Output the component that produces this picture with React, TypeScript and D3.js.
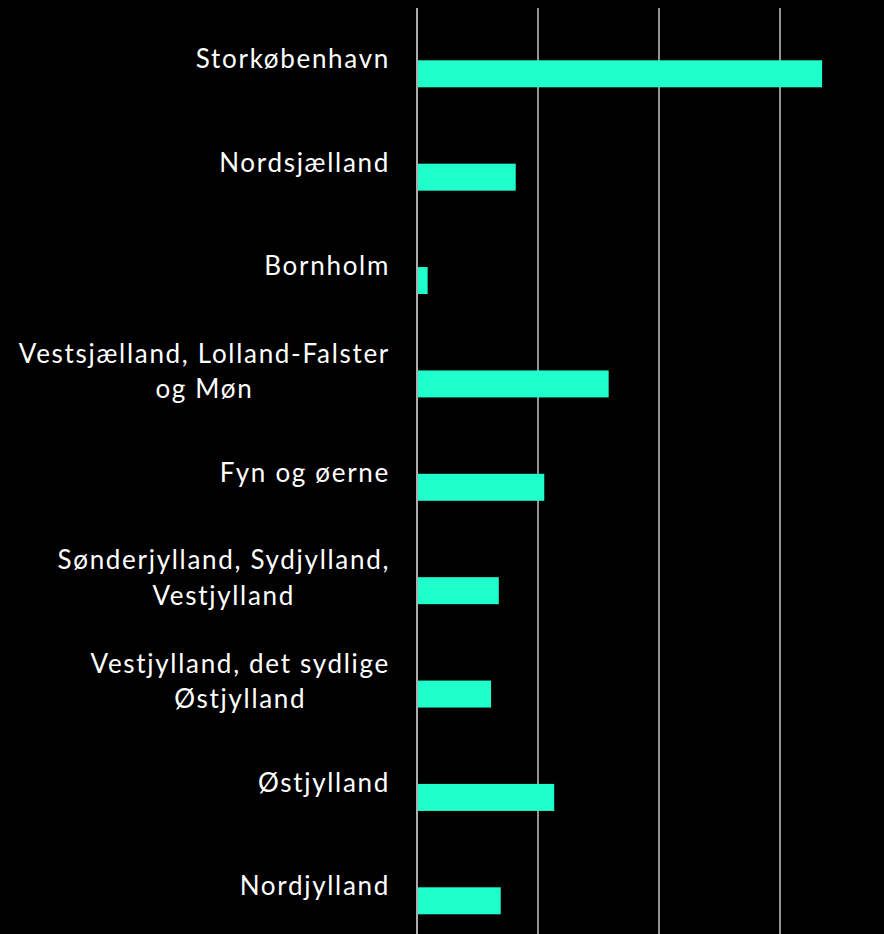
import React, { useEffect, useRef } from 'react';
import * as d3 from 'd3';

// Regions and their bar values (tick step = 5)
const regions = [
    "Storkøbenhavn",
    "Nordsjælland",
    "Bornholm",
    "Vestsjælland, Lolland-Falster|og Møn",
    "Fyn og øerne",
    "Sønderjylland, Sydjylland,|Vestjylland",
    "Vestjylland, det sydlige|Østjylland",
    "Østjylland",
    "Nordjylland"
];
const values = [16.74, 4.08, 0.44, 7.92, 5.26, 3.38, 3.06, 5.67, 3.46];
const ticks = [0, 5, 10, 15];

export default function App() {
    const ref = useRef<SVGSVGElement>(null);

    useEffect(() => {
        const width = 884;
        const height = 934;
        const barHeight = 27;
        const barOffset = 38;
        const lineHeight = 35.5;
        const labelRight = 389;

        document.body.style.margin = "0";
        document.body.style.background = "#000";

        const svg = d3.select(ref.current);
        svg.selectAll("*").remove();

        svg.append("rect")
            .attr("width", width)
            .attr("height", height)
            .attr("fill", "#000");

        const x = d3.scaleLinear()
            .domain([0, 17.5])
            .range([417, 417 + 121 * 3.5]);

        const y = d3.scaleBand()
            .domain(regions)
            .range([22.3, 22.3 + 9 * 103.375])
            .padding(0);

        // Grid lines
        svg.selectAll("line.grid")
            .data(ticks)
            .enter()
            .append("line")
            .attr("class", "grid")
            .attr("x1", d => x(d))
            .attr("x2", d => x(d))
            .attr("y1", 8)
            .attr("y2", height)
            .attr("stroke", (d, i) => i === 0 ? "#d8d8d8" : "#b8b8b8")
            .attr("stroke-width", 1.6);

        // Bars
        svg.selectAll("rect.bar")
            .data(regions)
            .enter()
            .append("rect")
            .attr("class", "bar")
            .attr("x", x(0) + 1)
            .attr("y", d => (y(d) as number) + barOffset)
            .attr("width", (d, i) => x(values[i]) - x(0) - 1)
            .attr("height", barHeight)
            .attr("fill", "#1fffcb");

        // Labels: block right-aligned, lines centred inside the block
        const labels = svg.selectAll("text.label")
            .data(regions)
            .enter()
            .append("text")
            .attr("class", "label")
            .attr("text-anchor", "middle")
            .attr("fill", "#fff")
            .style("font-family", "Lato, sans-serif")
            .style("font-size", "26px")
            .style("letter-spacing", "1.7px");

        labels.each(function (d) {
            const lines = d.split("|");
            const top = (y(d) as number) + barOffset;
            const first = top + 8 - (lines.length - 1) * lineHeight / 2 + (lines.length > 1 ? 2 : 0);
            const spans = lines.map((l, i) =>
                d3.select(this).append("tspan")
                    .attr("y", first + i * lineHeight)
                    .text(l)
            );
            const maxW = d3.max(spans, s => (s.node() as SVGTSpanElement).getComputedTextLength()) || 0;
            spans.forEach(s => s.attr("x", labelRight - maxW / 2 + 1));
        });
    }, []);

    return (
        <svg ref={ref} width={884} height={934} style={{ position: "absolute", left: 0, top: 0, display: "block" }} />
    );
}
